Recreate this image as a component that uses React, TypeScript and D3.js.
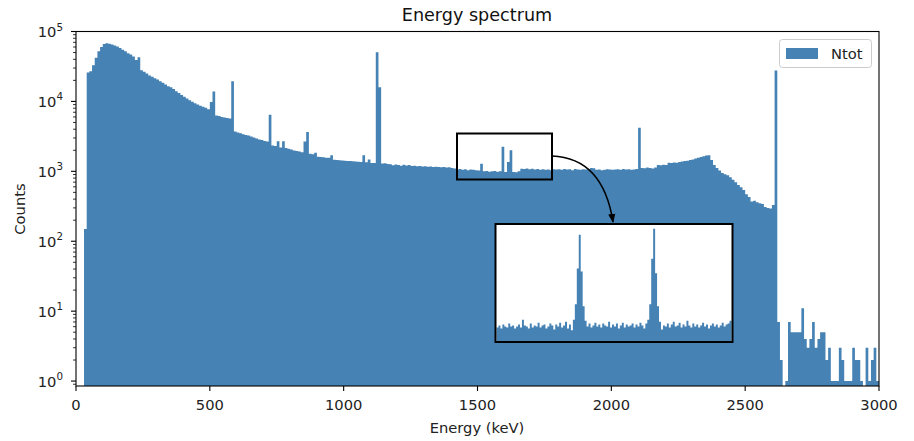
import React from "react";
import * as d3 from "d3";

// 10 keV bins, 0 - 3000 keV, counts
const binWidth = 10;
const countsA = [
  0, 0, 0, 150, 26000, 27000, 33000, 42000, 52000, 60000,
  66000, 68000, 67000, 65000, 63000, 61000, 58000, 55000, 52000, 49000,
  47000, 44000, 39000, 43000, 28000, 26500, 25000, 23500, 22500, 21500,
];
const countsB = [
  20500, 19500, 18500, 17500, 16500, 16000, 15000, 14000, 13200, 12400,
  11700, 11000, 10400, 9900, 9400, 9000, 8700, 8400, 8100, 7700,
  9800, 13900, 6300, 6200, 6000, 5900, 5800, 5700, 19400, 3700,
];
const countsC = [
  3600, 3500, 3400, 3300, 3250, 3150, 3050, 2950, 2850, 2800,
  2720, 2680, 6460, 2350, 2300, 2700, 2200, 2700, 2150, 2100,
  2050, 1980, 1950, 1920, 1880, 2680, 3650, 1780, 1760, 1850,
];
const countsD = [
  1620, 1600, 1590, 1570, 1560, 1700, 1460, 1450, 1440, 1430,
  1420, 1410, 1400, 1390, 1380, 1370, 1360, 1700, 1350, 1480,
  1320, 1320, 50500, 16000, 1290, 1300, 1270, 1260, 1220, 1250,
];
const countsE = [
  1230, 1200, 1240, 1210, 1230, 1190, 1200, 1180, 1190, 1170,
  1180, 1160, 1170, 1150, 1160, 1150, 1140, 1150, 1130, 1140,
  1120, 1100, 1060, 1080, 1050, 1070, 1040, 1060, 1050, 1040,
];
const countsF = [
  1030, 1280, 1000, 1010, 990, 1000, 1010, 990, 1000, 2240,
  980, 1360, 2000, 980, 970, 1000, 1090, 1080, 1100, 1070,
  1090, 1060, 1080, 1050, 1070, 1050, 1060, 1040, 1070, 1060,
];
const countsG = [
  1070, 1050, 1080, 1060, 1070, 1040, 1080, 1060, 1050, 1070,
  1060, 1080, 1120, 1110, 1050, 1060, 1040, 1050, 1070, 1060,
  1050, 1060, 1070, 1050, 1080, 1060, 1070, 1050, 1060, 1080,
];
const countsH = [
  4200, 1120, 1110, 1130, 1120, 1100, 1130, 1230, 1220, 1240,
  1230, 1330, 1320, 1340, 1330, 1360, 1380, 1400, 1420, 1450,
  1480, 1520, 1560, 1600, 1640, 1680, 1700, 1450, 1230, 1120,
];
const countsI = [
  1030, 950, 910, 880, 820, 760, 700, 640, 590, 540,
  470, 430, 370, 380, 360, 350, 340, 310, 300, 295,
  330, 27700,
];
const countsTail = [
  7, 2, 0, 1, 7, 5, 5, 5, 5, 11,
  4, 3, 4, 7, 3, 4, 5, 5, 2, 3,
  1, 1, 1, 3, 2, 1, 1, 1, 3, 2,
  2, 1, 0, 3, 1, 2, 3, 1,
];

// zoomed inset (fine bins around the two peaks)
const insetStart = 1552;
const insetBin = 0.85;
const insetCounts = [
  14, 16, 13, 17, 15, 14, 18, 15, 16, 13,
  15, 17, 14, 22, 16, 15, 13, 18, 14, 16,
  15, 19, 14, 16, 17, 13, 15, 18, 16, 12,
  17, 15, 19, 14, 16, 20, 13, 17, 11, 22,
  38, 75, 110, 72, 36, 21, 15, 18, 14, 16,
  19, 15, 17, 14, 18, 16, 15, 20, 14, 17,
  15, 18, 13, 16, 19, 14, 17, 15, 16, 18,
  14, 17, 15, 19, 16, 13, 18, 22, 38, 85,
  116, 70, 36, 20, 12, 16, 15, 18, 14, 17,
  20, 15, 16, 19, 14, 17, 15, 21, 16, 14,
  18, 15, 17, 14, 16, 19, 15, 17, 13, 16,
  18, 15, 17, 14, 16, 19, 15, 17, 18, 21,
];

const xTicks = [0, 500, 1000, 1500, 2000, 2500, 3000];
const yDecades = [0, 1, 2, 3, 4, 5];

const counts = [
  ...countsA, ...countsB, ...countsC, ...countsD, ...countsE,
  ...countsF, ...countsG, ...countsH, ...countsI, ...countsTail,
];

const color = "steelblue";
const font = "DejaVu Sans, sans-serif";

export default function App() {
  const x = d3.scaleLinear().domain([0, 3000]).range([76, 879]);
  const y = d3.scaleLog().domain([0.85, 1e5]).range([386, 31.5]);
  const base = y.range()[0];

  let d = `M${x(0)},${base}`;
  counts.forEach((c, i) => {
    const yy = c > 0 ? y(c) : base;
    d += `L${x(i * binWidth)},${yy}L${x((i + 1) * binWidth)},${yy}`;
  });
  d += `L${x(counts.length * binWidth)},${base}Z`;

  // inset
  const ix = d3
    .scaleLinear()
    .domain([insetStart, insetStart + insetCounts.length * insetBin])
    .range([496.5, 731.5]);
  const iy = d3.scaleLinear().domain([0, 120]).range([341, 225]);
  let di = `M${ix(insetStart)},${iy(0)}`;
  insetCounts.forEach((c, i) => {
    const yy = iy(c);
    di += `L${ix(insetStart + i * insetBin)},${yy}L${ix(insetStart + (i + 1) * insetBin)},${yy}`;
  });
  di += `L${ix(insetStart + insetCounts.length * insetBin)},${iy(0)}Z`;

  const minor: number[] = [];
  [-1, 0, 1, 2, 3, 4].forEach((e) => {
    for (let m = 2; m <= 9; m++) {
      const v = m * Math.pow(10, e);
      if (v >= 0.85 && v <= 1e5) minor.push(v);
    }
  });

  return (
    <svg
      width={914}
      height={441}
      style={{ position: "absolute", left: 0, top: 0, background: "#fff" }}
      fontFamily={font}
    >
      <text x={477} y={21} textAnchor="middle" fontSize={17.6} fill="#111">
        Energy spectrum
      </text>

      <path d={d} fill={color} />

      {/* zoom box and arrow */}
      <rect x={457} y={133.5} width={95} height={46} fill="none" stroke="#000" strokeWidth={2} />
      <defs>
        <marker id="ah" viewBox="0 0 10 10" refX={9} refY={5} markerWidth={6} markerHeight={6} orient="auto">
          <path d="M0,1 L10,5 L0,9 Z" fill="#000" />
        </marker>
      </defs>
      <path d="M552,156 Q603,158 613,222" fill="none" stroke="#000" strokeWidth={1.5} markerEnd="url(#ah)" />

      {/* inset */}
      <rect x={495.5} y={224} width={237} height={118} fill="#fff" />
      <path d={di} fill={color} />
      <rect x={495.5} y={224} width={237} height={118} fill="none" stroke="#000" strokeWidth={2} />

      {/* frame */}
      <rect x={76} y={31.5} width={803} height={354.5} fill="none" stroke="#000" strokeWidth={1.1} />

      {/* x axis */}
      {xTicks.map((t) => (
        <g key={t}>
          <line x1={x(t)} x2={x(t)} y1={386} y2={391} stroke="#000" strokeWidth={1.1} />
          <text x={x(t)} y={410} textAnchor="middle" fontSize={14.7} fill="#222">
            {t}
          </text>
        </g>
      ))}
      <text x={477} y={433} textAnchor="middle" fontSize={14.7} fill="#222">
        Energy (keV)
      </text>

      {/* y axis */}
      {minor.map((v) => (
        <line key={v} x1={73} x2={76} y1={y(v)} y2={y(v)} stroke="#000" strokeWidth={0.8} />
      ))}
      {yDecades.map((e) => (
        <g key={e}>
          <line x1={71} x2={76} y1={y(Math.pow(10, e))} y2={y(Math.pow(10, e))} stroke="#000" strokeWidth={1.1} />
          <text x={63} y={y(Math.pow(10, e)) + 5.5} textAnchor="end" fontSize={14.7} fill="#222">
            10
            <tspan dy={-6.5} fontSize={10.3}>
              {e}
            </tspan>
          </text>
        </g>
      ))}
      <text transform="translate(25,209) rotate(-90)" textAnchor="middle" fontSize={14.7} fill="#222">
        Counts
      </text>

      {/* legend */}
      <rect x={779.5} y={39.5} width={92} height={28} rx={3} fill="#fff" fillOpacity={0.8} stroke="#ccc" />
      <rect x={786} y={48} width={32} height={11} fill={color} />
      <text x={831} y={58.5} fontSize={14.7} fill="#222">
        Ntot
      </text>
    </svg>
  );
}
